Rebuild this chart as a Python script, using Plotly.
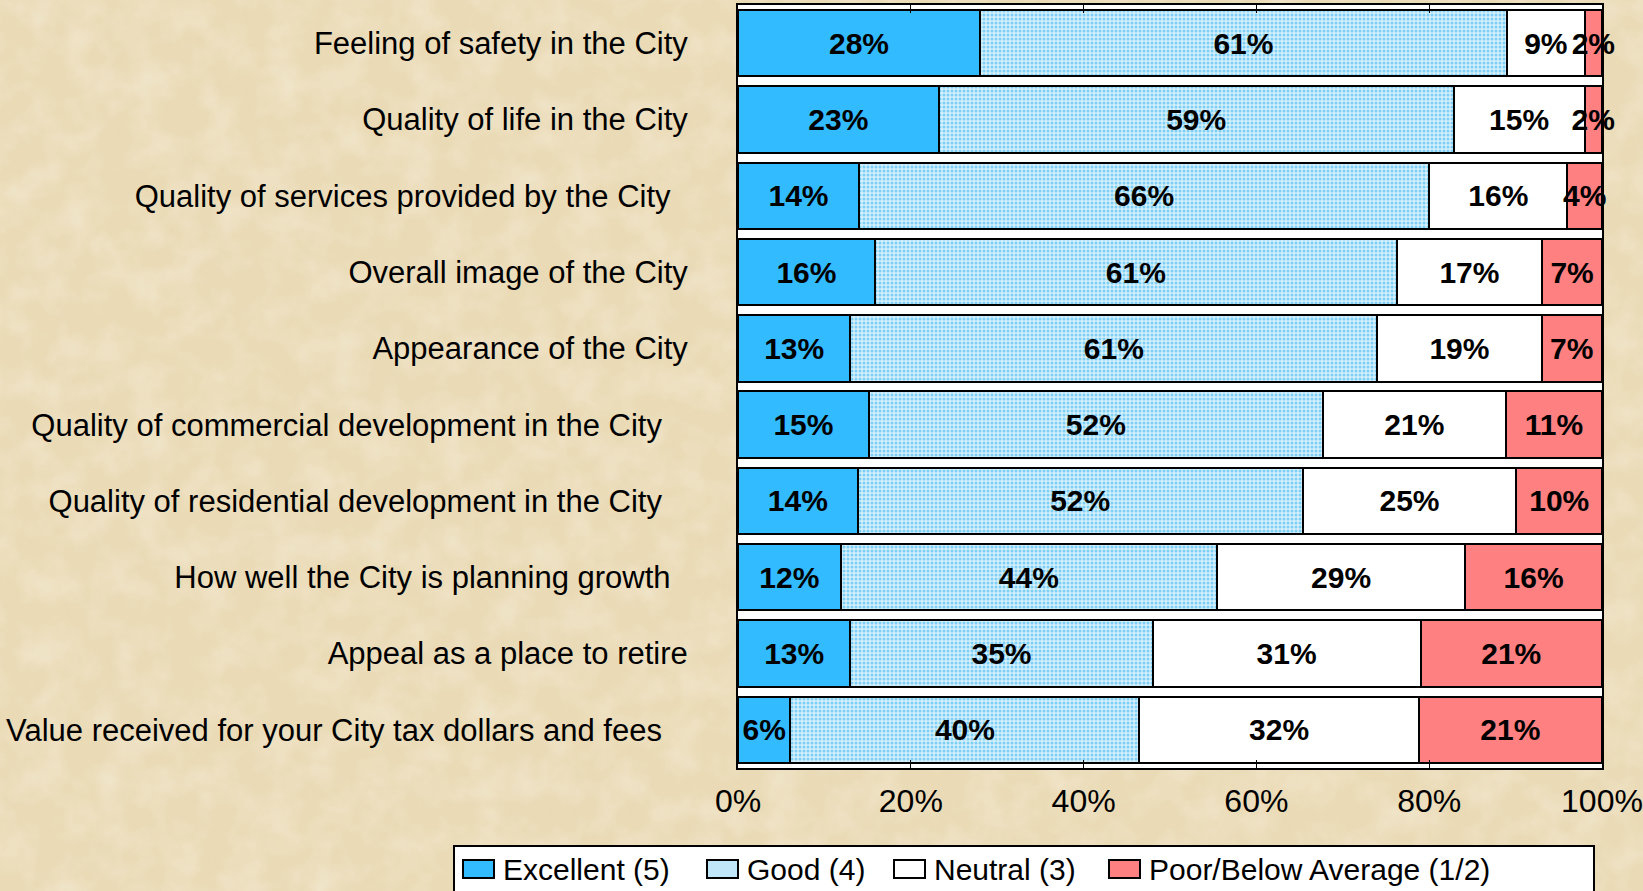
import base64
import plotly.graph_objects as go

categories = [
    "Feeling of safety in the City",
    "Quality of life in the City",
    "Quality of services provided by the City  ",
    "Overall image of the City",
    "Appearance of the City",
    "Quality of commercial development in the City   ",
    "Quality of residential development in the City   ",
    "How well the City is planning growth  ",
    "Appeal as a place to retire",
    "Value received for your City tax dollars and fees   ",
]
excellent = [28, 23, 14, 16, 13, 15, 14, 12, 13, 6]
good = [61, 59, 66, 61, 61, 52, 52, 44, 35, 40]
neutral = [9, 15, 16, 17, 19, 21, 25, 29, 31, 32]
poor = [2, 2, 4, 7, 7, 11, 10, 16, 21, 21]
series_names = ["Excellent (5)", "Good (4)", "Neutral (3)", "Poor/Below Average (1/2)"]
x_ticks = [0, 20, 40, 60, 80, 100]
x_tick_labels = ["0%", "20%", "40%", "60%", "80%", "100%"]

FONT = "Liberation Sans, Arial, Helvetica, sans-serif"
W, H = 1643, 891
ML, MR, MT, MB = 738, 41, 5, 123
PW, PH = W - ML - MR, H - MT - MB

def px_x(p):
    return (p - ML) / PW

def px_y(p):
    return (H - MB - p) / PH

ticktext = [c.rstrip() + "\u00a0" * (len(c) - len(c.rstrip())) for c in categories]

fills = ["#33bbff", "#d6f0fc", "#ffffff", "#ff8080"]
legend_fills = ["#33bbff", "#bfe7f9", "#ffffff", "#ff8080"]
patterns = [None,
            dict(shape=".", fgcolor="#7ccff5", bgcolor="#d6f0fc", size=4,
                 solidity=0.45, fillmode="replace"),
            None, None]

fig = go.Figure()
for name, vals, fc, pat in zip(series_names, [excellent, good, neutral, poor], fills, patterns):
    marker = dict(color=fc, line=dict(color="black", width=2))
    if pat:
        marker["pattern"] = pat
    fig.add_trace(go.Bar(
        y=categories, x=vals, name=name, orientation="h", marker=marker,
        text=[f"{v}%" for v in vals], textposition="inside",
        insidetextanchor="middle", textangle=0,
        textfont=dict(family=FONT, size=30, color="black", weight="bold"),
        cliponaxis=False, showlegend=False,
    ))

# parchment-like background texture
svg = (
    f"<svg xmlns='http://www.w3.org/2000/svg' width='{W}' height='{H}'>"
    "<filter id='f'><feTurbulence type='fractalNoise' baseFrequency='0.012' "
    "numOctaves='4' seed='7'/>"
    "<feColorMatrix type='matrix' values='0 0 0 0 0.82  0 0 0 0 0.71  0 0 0 0 0.50  "
    "0 0 0 1.6 -0.6'/></filter>"
    "<filter id='g'><feTurbulence type='fractalNoise' baseFrequency='0.03' "
    "numOctaves='3' seed='2'/>"
    "<feColorMatrix type='matrix' values='0 0 0 0 0.97  0 0 0 0 0.94  0 0 0 0 0.85  "
    "0 0 0 1.4 -0.5'/></filter>"
    "<rect width='100%' height='100%' fill='#eadab5'/>"
    "<rect width='100%' height='100%' filter='url(#f)' opacity='0.4'/>"
    "<rect width='100%' height='100%' filter='url(#g)' opacity='0.45'/>"
    "</svg>"
)
src = "data:image/svg+xml;base64," + base64.b64encode(svg.encode()).decode()

shapes = [dict(type="rect", xref="paper", yref="paper", x0=0, x1=1, y0=0, y1=1,
               fillcolor="white", line=dict(width=0), layer="below")]
annotations = []
# legend box
shapes.append(dict(type="rect", xref="paper", yref="paper",
                   x0=px_x(454), x1=px_x(1594), y0=px_y(846), y1=px_y(900),
                   fillcolor="white", line=dict(color="black", width=2), layer="above"))
legend_x = [463, 707, 894, 1109]
for name, lx, fc in zip(series_names, legend_x, legend_fills):
    shapes.append(dict(type="rect", xref="paper", yref="paper",
                       x0=px_x(lx), x1=px_x(lx + 31), y0=px_y(860), y1=px_y(878),
                       fillcolor=fc, line=dict(color="black", width=2), layer="above"))
    annotations.append(dict(text=name, xref="paper", yref="paper",
                            x=px_x(lx + 38), y=px_y(869), xanchor="left", yanchor="middle",
                            showarrow=False, font=dict(family=FONT, size=30, color="black")))

fig.update_layout(
    barmode="stack", barnorm="percent", bargap=0.13,
    width=W, height=H,
    margin=dict(l=ML, r=MR, t=MT, b=MB, pad=0, autoexpand=False),
    paper_bgcolor="#eadab5", plot_bgcolor="white",
    font=dict(family=FONT, color="black"),
    uniformtext=dict(minsize=30, mode="show"),
    showlegend=False,
    images=[dict(source=src, xref="paper", yref="paper", x=px_x(0), y=px_y(0),
                 sizex=W / PW, sizey=H / PH, xanchor="left", yanchor="top",
                 sizing="stretch", layer="below")],
    shapes=shapes, annotations=annotations,
)
fig.update_xaxes(range=[0, 100.001], tickvals=x_ticks, ticktext=x_tick_labels,
                 tickfont=dict(family=FONT, size=32, color="black"),
                 showgrid=False, zeroline=False, automargin=False,
                 showline=True, linecolor="black", linewidth=2, mirror="ticks",
                 ticks="inside", ticklen=8, tickcolor="black", tickwidth=1,
                 ticklabelstandoff=4, ticklabeloverflow="allow")
fig.update_yaxes(categoryorder="array", categoryarray=categories,
                 tickvals=categories, ticktext=ticktext,
                 autorange="reversed", automargin=False,
                 tickfont=dict(family=FONT, size=31, color="black"),
                 showgrid=False, showline=True, linecolor="black", linewidth=2,
                 mirror=True, ticks="", ticklabelstandoff=42)

fig.write_html("out.html", config={"displayModeBar": False},
               post_script="document.body.style.margin='0';document.body.style.overflow='hidden';")
